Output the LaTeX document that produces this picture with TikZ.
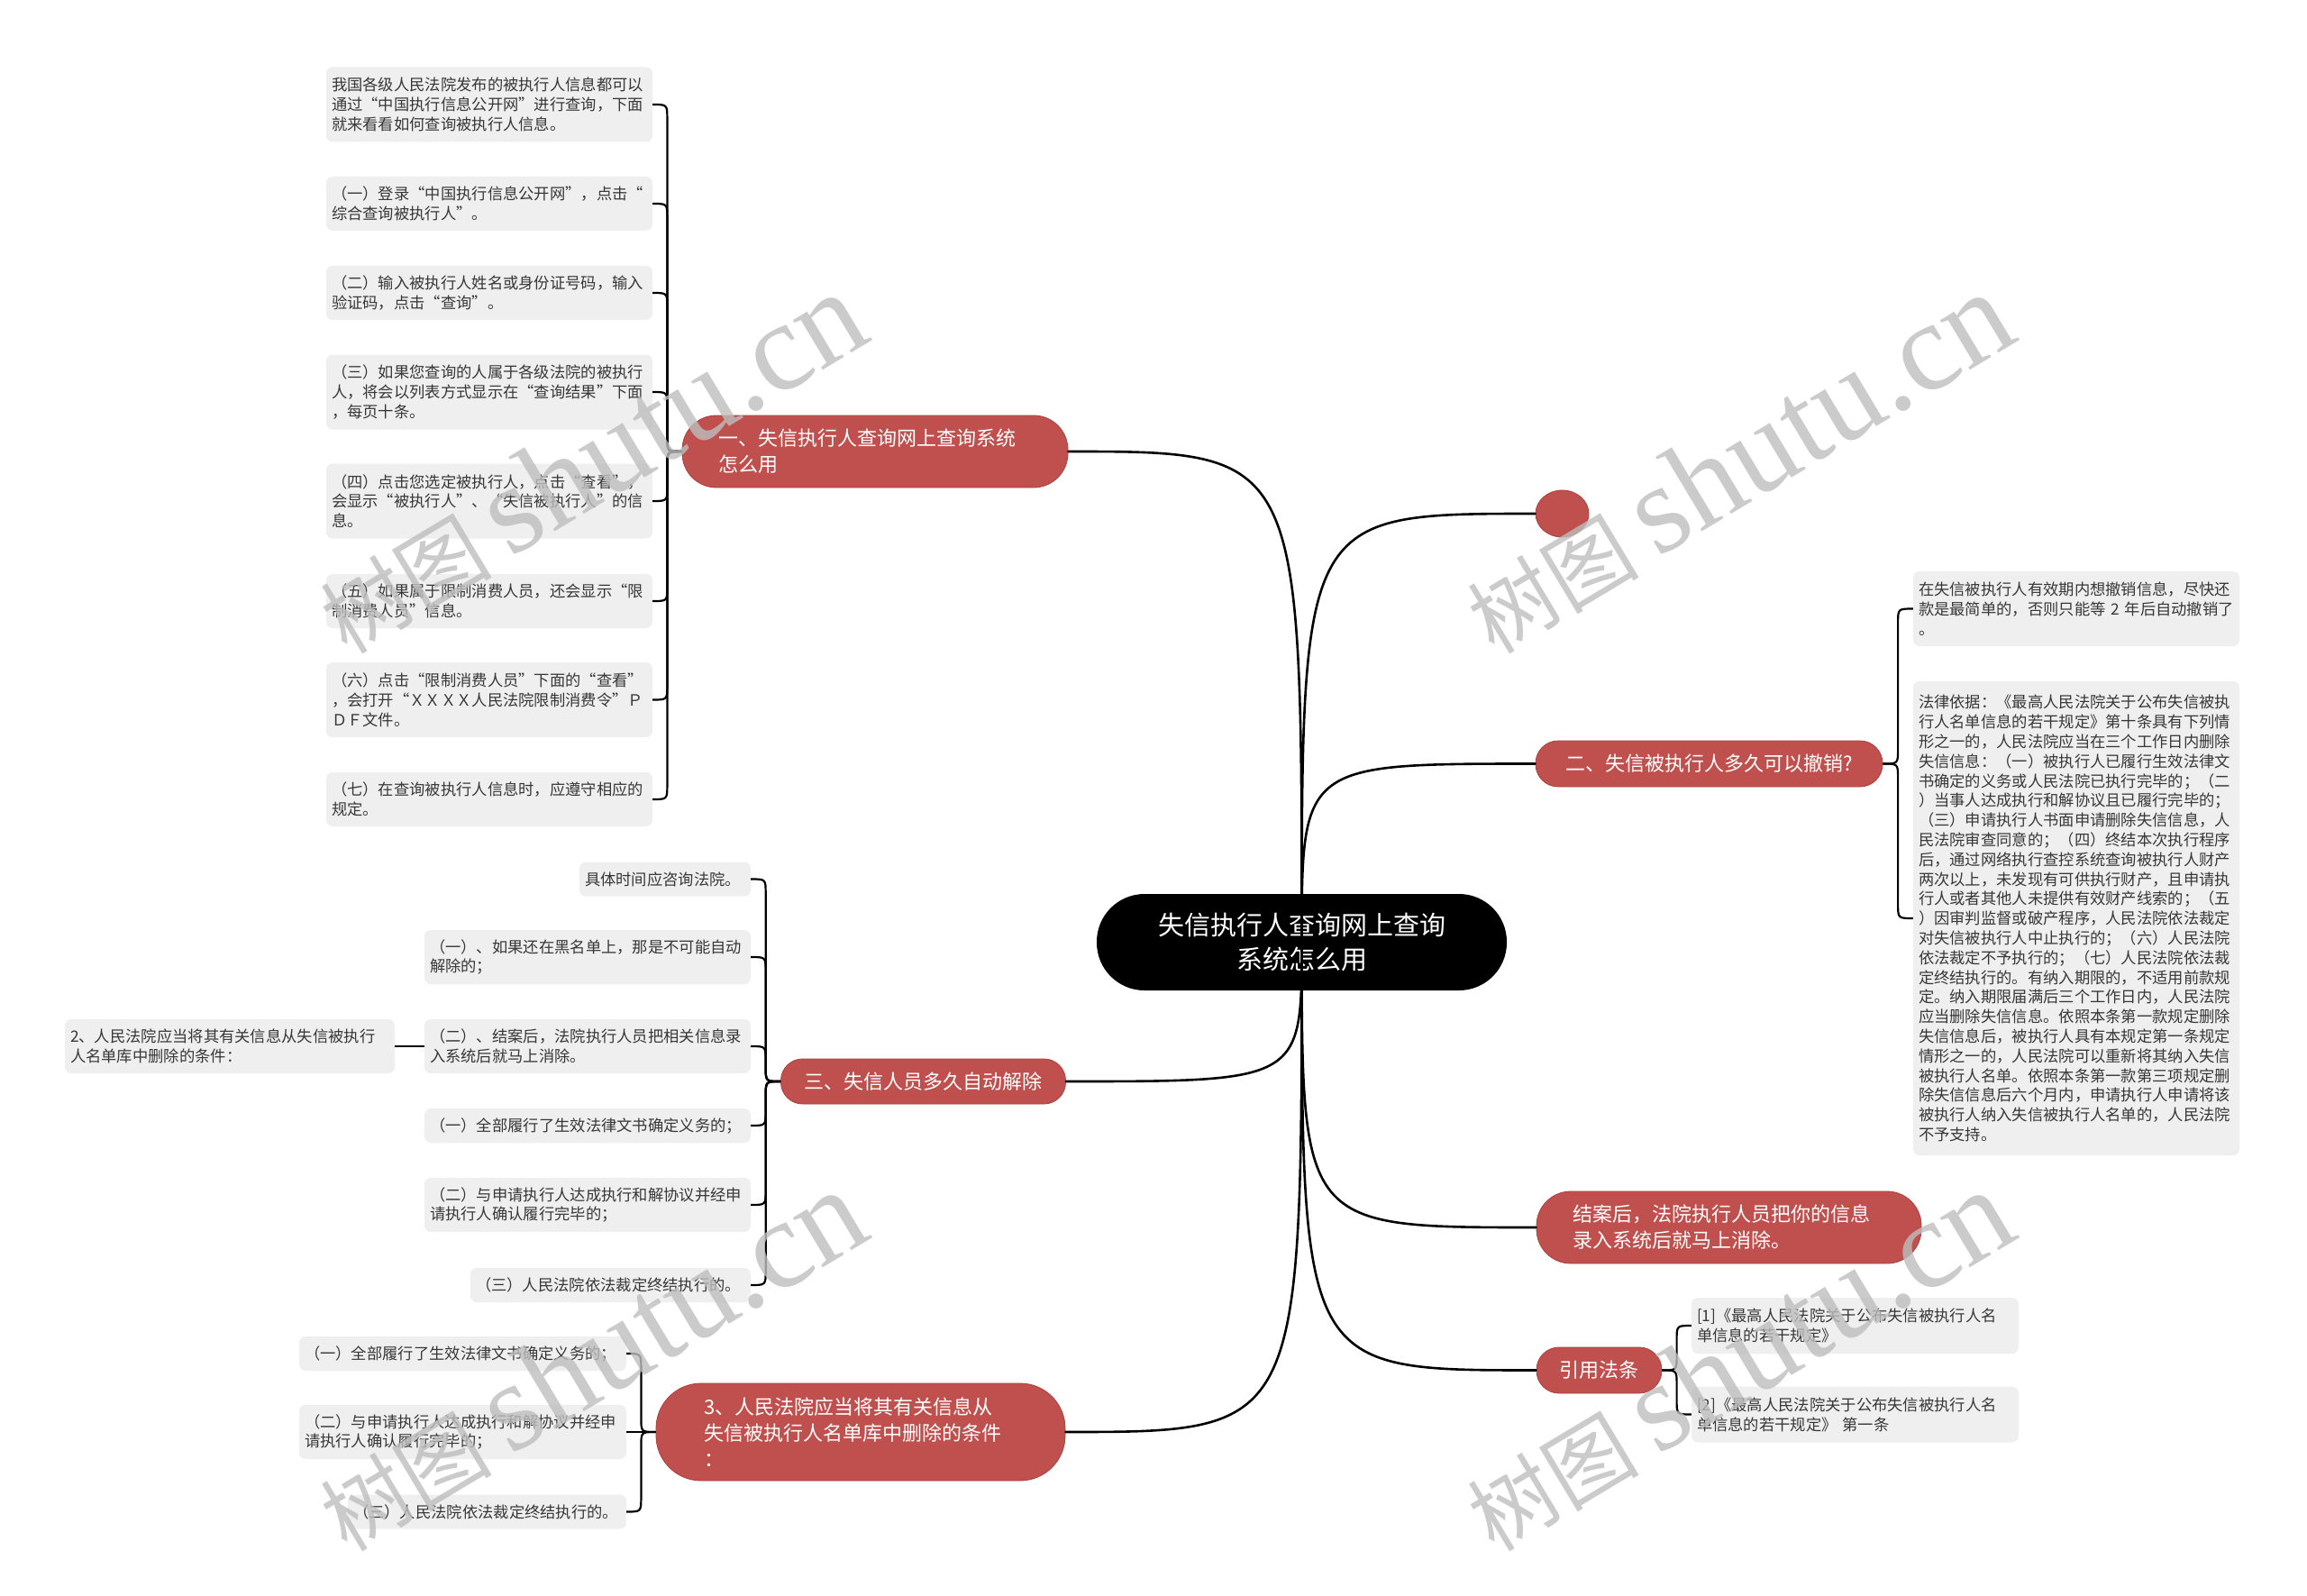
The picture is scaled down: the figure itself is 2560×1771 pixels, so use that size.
\documentclass[tikz,border=0pt]{standalone}
\usepackage{fontspec}
\setmainfont{Noto Sans CJK SC}
\newfontfamily\wmlatin{Liberation Serif}
\usetikzlibrary{calc,shapes.geometric}
\definecolor{nodered}{RGB}{192,80,77}
\definecolor{nodeedge}{RGB}{172,64,62}
\definecolor{leafgray}{RGB}{239,239,239}
\definecolor{leaftext}{RGB}{55,55,55}
\definecolor{wmgray}{RGB}{190,190,190}
\tikzset{
  leafbox/.style={fill=leafgray, rounded corners=7pt, text=leaftext, align=left, inner xsep=6pt, inner ysep=0pt, font=\fontsize{17.3pt}{21.8pt}\selectfont},
  oneline/.style={minimum height=38pt},
  twoline/.style={minimum height=60pt},
  threeline/.style={minimum height=83pt},
  redbox/.style={fill=nodered, draw=nodeedge, line width=0.8pt, text=white, font=\fontsize{22pt}{29pt}\selectfont, inner ysep=0pt},
  mainline/.style={line width=2.6pt, line cap=round},
  subline/.style={line width=2.2pt},
  bracepath/.style={to path={let \p1=(\tikztostart), \p2=(\tikztotarget), \n1={(\x1+\x2)/2}, \n2={max(-16,min(16,(\y2-\y1)/2))} in (\p1) .. controls (\n1,\y1) .. (\n1,\y1+\n2) -- (\n1,\y2-\n2) .. controls (\n1,\y2) .. (\p2)}},
  wm/.style={text=wmgray, text opacity=0.8, rotate=31, inner sep=0pt}
}
\begin{document}
\begin{tikzpicture}[x=1pt,y=-1pt]
\useasboundingbox (0,0) rectangle (2560,1771);
\fill[white] (0,0) rectangle (2560,1771);

% central
\node[fill=black, text=white, align=center, font=\fontsize{29pt}{38pt}\selectfont, minimum width=455pt, minimum height=107pt, rounded corners=53pt, inner sep=0pt] (C) at (1444.5,1045.5) {失信执行人查询网上查询\\系统怎么用};

% branches
\node[redbox, align=left, text width=348pt, inner xsep=40pt, minimum height=80pt, rounded corners=38pt] (B1) at (971,501) {一、失信执行人查询网上查询系统\\怎么用};
\node[redbox, inner xsep=26pt, minimum height=50pt, rounded corners=24pt] (B3) at (1024.5,1200) {三、失信人员多久自动解除};
\node[redbox, align=left, text width=348pt, inner xsep=53pt, minimum height=108pt, rounded corners=50pt] (BQ) at (955,1589) {3、人民法院应当将其有关信息从\\失信被执行人名单库中删除的条件\\：};
\node[ellipse, fill=nodered, draw=nodeedge, line width=0.8pt, minimum width=59pt, minimum height=52pt, inner sep=0pt] (DOT) at (1733.5,570) {};
\node[redbox, minimum width=385pt, minimum height=51pt, rounded corners=25pt] (B2) at (1896.5,847.5) {二、失信被执行人多久可以撤销?};
\node[redbox, align=left, text width=347pt, inner xsep=40pt, minimum height=80pt, rounded corners=38pt] (BJ) at (1918.5,1362) {结案后，法院执行人员把你的信息\\录入系统后就马上消除。};
\node[redbox, minimum width=139pt, minimum height=51pt, rounded corners=25pt] (BY) at (1774.5,1520.5) {引用法条};

% leaves of branch 一
\node[leafbox, threeline, text width=350pt] (L1) at (543,116) {我国各级人民法院发布的被执行人信息都可以\\通过“中国执行信息公开网”进行查询，下面\\就来看看如何查询被执行人信息。};
\node[leafbox, twoline, text width=350pt] (L2) at (543,226) {（一）登录“中国执行信息公开网”，点击“\\综合查询被执行人”。};
\node[leafbox, twoline, text width=350pt] (L3) at (543,325) {（二）输入被执行人姓名或身份证号码，输入\\验证码，点击“查询”。};
\node[leafbox, threeline, text width=350pt] (L4) at (543,435) {（三）如果您查询的人属于各级法院的被执行\\人，将会以列表方式显示在“查询结果”下面\\，每页十条。};
\node[leafbox, threeline, text width=350pt] (L5) at (543,556) {（四）点击您选定被执行人，点击“查看”，\\会显示“被执行人”、“失信被执行人”的信\\息。};
\node[leafbox, twoline, text width=350pt] (L6) at (543,667) {（五）如果属于限制消费人员，还会显示“限\\制消费人员”信息。};
\node[leafbox, threeline, text width=350pt] (L7) at (543,776.5) {（六）点击“限制消费人员”下面的“查看”\\，会打开“ＸＸＸＸ人民法院限制消费令”Ｐ\\ＤＦ文件。};
\node[leafbox, twoline, text width=350pt] (L8) at (543,887) {（七）在查询被执行人信息时，应遵守相应的\\规定。};

% leaves of branch 三
\node[leafbox, oneline, text width=178pt] (M1) at (738,975.5) {具体时间应咨询法院。};
\node[leafbox, twoline, text width=350pt] (M2) at (652,1062) {（一）、如果还在黑名单上，那是不可能自动\\解除的；};
\node[leafbox, twoline, text width=350pt] (M3) at (652,1161) {（二）、结案后，法院执行人员把相关信息录\\入系统后就马上消除。};
\node[leafbox, oneline, text width=350pt] (M4) at (652,1249) {（一）全部履行了生效法律文书确定义务的；};
\node[leafbox, twoline, text width=350pt] (M5) at (652,1337) {（二）与申请执行人达成执行和解协议并经申\\请执行人确认履行完毕的；};
\node[leafbox, oneline, text width=299pt] (M6) at (677.5,1426) {（三）人民法院依法裁定终结执行的。};
\node[leafbox, twoline, text width=354pt] (M0) at (255,1161) {2、人民法院应当将其有关信息从失信被执行\\人名单库中删除的条件：};

% leaves of branch 3
\node[leafbox, oneline, text width=351pt] (N1) at (513.5,1502) {（一）全部履行了生效法律文书确定义务的；};
\node[leafbox, twoline, text width=351pt] (N2) at (513.5,1589) {（二）与申请执行人达成执行和解协议并经申\\请执行人确认履行完毕的；};
\node[leafbox, oneline, text width=297pt] (N3) at (540.5,1677.5) {（三）人民法院依法裁定终结执行的。};

% leaves of branch 二
\node[leafbox, threeline, text width=350pt] (R1) at (2304,675.5) {在失信被执行人有效期内想撤销信息，尽快还\\款是最简单的，否则只能等 2 年后自动撤销了\\。};
\node[leafbox, minimum height=526pt, text width=350pt] (R2) at (2304,1019) {法律依据：《最高人民法院关于公布失信被执\\行人名单信息的若干规定》第十条具有下列情\\形之一的，人民法院应当在三个工作日内删除\\失信信息：（一）被执行人已履行生效法律文\\书确定的义务或人民法院已执行完毕的；（二\\）当事人达成执行和解协议且已履行完毕的；\\（三）申请执行人书面申请删除失信信息，人\\民法院审查同意的；（四）终结本次执行程序\\后，通过网络执行查控系统查询被执行人财产\\两次以上，未发现有可供执行财产，且申请执\\行人或者其他人未提供有效财产线索的；（五\\）因审判监督或破产程序，人民法院依法裁定\\对失信被执行人中止执行的；（六）人民法院\\依法裁定不予执行的；（七）人民法院依法裁\\定终结执行的。有纳入期限的，不适用前款规\\定。纳入期限届满后三个工作日内，人民法院\\应当删除失信信息。依照本条第一款规定删除\\失信信息后，被执行人具有本规定第一条规定\\情形之一的，人民法院可以重新将其纳入失信\\被执行人名单。依照本条第一款第三项规定删\\除失信信息后六个月内，申请执行人申请将该\\被执行人纳入失信被执行人名单的，人民法院\\不予支持。};

% leaves of 引用法条
\node[leafbox, minimum height=62pt, text width=351pt] (F1) at (2058.5,1471) {[1]《最高人民法院关于公布失信被执行人名\\单信息的若干规定》};
\node[leafbox, minimum height=62pt, text width=351pt] (F2) at (2058.5,1569.5) {[2]《最高人民法院关于公布失信被执行人名\\单信息的若干规定》 第一条};

% main connectors
\draw[mainline] (C.center) .. controls (C.center |- B1.east) .. (B1.east);
\draw[mainline] (C.center) .. controls (C.center |- DOT.west) .. (DOT.west);
\draw[mainline] (C.center) .. controls (C.center |- B2.west) .. (B2.west);
\draw[mainline] (C.center) .. controls (C.center |- B3.east) .. (B3.east);
\draw[mainline] (C.center) .. controls (C.center |- BJ.west) .. (BJ.west);
\draw[mainline] (C.center) .. controls (C.center |- BY.west) .. (BY.west);
\draw[mainline] (C.center) .. controls (C.center |- BQ.east) .. (BQ.east);

% sub connectors
\foreach \nd in {L1,L2,L3,L4,L5,L6,L7,L8} \draw[subline] (B1.west) to[bracepath] (\nd.east);
\foreach \nd in {M1,M2,M3,M4,M5,M6} \draw[subline] (B3.west) to[bracepath] (\nd.east);
\draw[subline] (M3.west) -- (M0.east);
\foreach \nd in {N1,N2,N3} \draw[subline] (BQ.west) to[bracepath] (\nd.east);
\foreach \nd in {R1,R2} \draw[subline] (B2.east) to[bracepath] (\nd.west);
\foreach \nd in {F1,F2} \draw[subline] (BY.east) to[bracepath] (\nd.west);

% watermarks
\node[wm] (W1) at (655,514) {\fontsize{95pt}{95pt}\selectfont 树图 {\wmlatin\fontsize{140pt}{140pt}\selectfont shutu.cn}};
\node[wm] (W2) at (1928,514) {\fontsize{95pt}{95pt}\selectfont 树图 {\wmlatin\fontsize{140pt}{140pt}\selectfont shutu.cn}};
\node[wm] (W3) at (655,1510) {\fontsize{95pt}{95pt}\selectfont 树图 {\wmlatin\fontsize{140pt}{140pt}\selectfont shutu.cn}};
\node[wm] (W4) at (1928,1510) {\fontsize{95pt}{95pt}\selectfont 树图 {\wmlatin\fontsize{140pt}{140pt}\selectfont shutu.cn}};
\end{tikzpicture}
\end{document}
